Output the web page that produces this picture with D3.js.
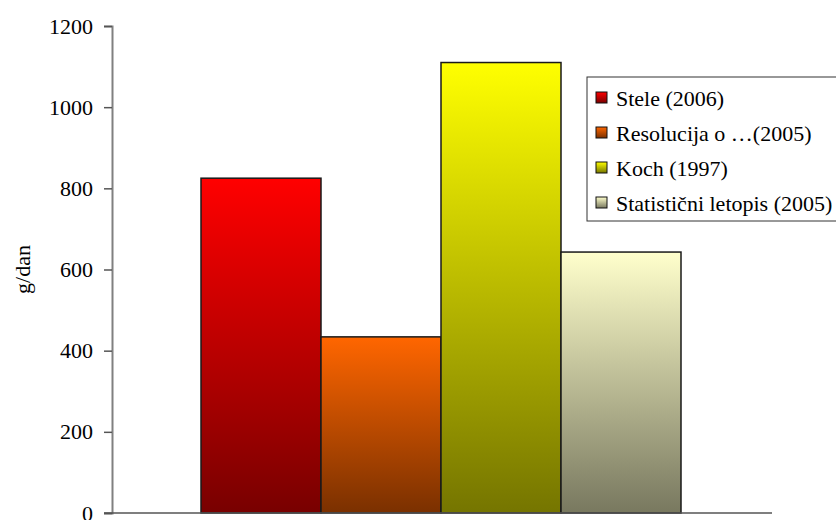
<!DOCTYPE html>
<html>
<head>
<meta charset="utf-8">
<script src="https://cdn.jsdelivr.net/npm/d3@7/dist/d3.min.js"></script>
<style>
  html, body { margin: 0; padding: 0; background: #fff; }
  svg { display: block; }
  text { font-family: "Liberation Serif", "Times New Roman", serif; fill: #000; }
</style>
</head>
<body>
<svg id="chart" width="836" height="520"></svg>
<script>
// Daily intake (g/dan) according to four sources
const series = ["Stele (2006)", "Resolucija o …(2005)", "Koch (1997)", "Statistični letopis (2005)"];
const values = [825, 434, 1110, 643];
const topColors = ["#ff0000", "#ff6600", "#ffff00", "#ffffcc"];
const bottomColors = ["#780000", "#7a3000", "#757500", "#78785f"];
const yTicks = [0, 200, 400, 600, 800, 1000, 1200];
const yLabel = "g/dan";

const svg = d3.select("#chart");
const plot = { left: 112, right: 772, top: 26, bottom: 513 };

const y = d3.scaleLinear().domain([0, 1200]).range([plot.bottom, plot.top]);
const x = d3.scaleBand().domain(series).range([201, 681]).paddingInner(0).paddingOuter(0);

// vertical gradients for each bar
const defs = svg.append("defs");
series.forEach((s, i) => {
  const g = defs.append("linearGradient")
    .attr("id", "grad" + i)
    .attr("x1", 0).attr("y1", 0).attr("x2", 0).attr("y2", 1);
  g.append("stop").attr("offset", "0%").attr("stop-color", topColors[i]);
  g.append("stop").attr("offset", "100%").attr("stop-color", bottomColors[i]);
});

// bars
svg.append("g").selectAll("rect")
  .data(series)
  .join("rect")
  .attr("x", d => x(d))
  .attr("y", (d, i) => y(values[i]))
  .attr("width", x.bandwidth())
  .attr("height", (d, i) => y(0) - y(values[i]))
  .attr("fill", (d, i) => `url(#grad${i})`)
  .attr("stroke", "#1a1a1a")
  .attr("stroke-width", 1.5);

// y axis
const yAxis = d3.axisLeft(y).tickValues(yTicks).tickSize(8).tickPadding(11).tickFormat(d3.format("d"));
const ay = svg.append("g").attr("transform", `translate(${plot.left},0)`).call(yAxis);
ay.select(".domain").attr("stroke", "#808080").attr("stroke-width", 2);
ay.selectAll(".tick line").attr("stroke", "#555").attr("stroke-width", 1.5);
ay.selectAll(".tick text")
  .style("font-family", '"Liberation Serif", serif')
  .style("font-size", "22px")
  .attr("fill", "#000");

// category baseline
svg.append("line")
  .attr("x1", plot.left - 8).attr("x2", plot.right)
  .attr("y1", y(0)).attr("y2", y(0))
  .attr("stroke", "#555").attr("stroke-width", 1.5);

// y label
svg.append("text")
  .attr("transform", `translate(30,${(plot.top + plot.bottom) / 2}) rotate(-90)`)
  .attr("text-anchor", "middle")
  .style("font-size", "22px")
  .text(yLabel);

// legend
const legend = svg.append("g");
legend.append("rect")
  .attr("x", 587).attr("y", 77).attr("width", 260).attr("height", 144)
  .attr("fill", "#fff").attr("stroke", "#333").attr("stroke-width", 1);
const items = legend.selectAll("g.item")
  .data(series)
  .join("g")
  .attr("class", "item")
  .attr("transform", (d, i) => `translate(596,${98 + i * 35})`);
items.append("rect")
  .attr("x", 0).attr("y", -6).attr("width", 11).attr("height", 11)
  .attr("fill", (d, i) => `url(#grad${i})`)
  .attr("stroke", "#111").attr("stroke-width", 1);
items.append("text")
  .attr("x", 20).attr("y", 0).attr("dy", "0.35em")
  .style("font-size", "22px")
  .text(d => d);
</script>
</body>
</html>
